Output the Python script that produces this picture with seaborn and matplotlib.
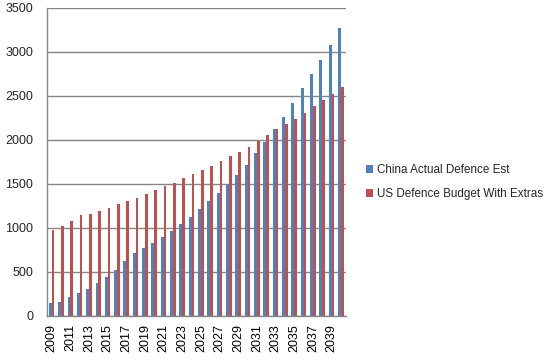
import matplotlib
matplotlib.use("Agg")
import matplotlib.pyplot as plt
import seaborn as sns
import pandas as pd
import numpy as np

# values
years = list(range(2009, 2041))
china = [143, 155, 211, 256, 302, 369, 437, 516, 618, 709,
         765, 822, 890, 958, 1037, 1127, 1218, 1308, 1399, 1500,
         1602, 1715, 1845, 1970, 2116, 2260, 2420, 2590, 2750, 2910,
         3081, 3270]
us = [969, 1014, 1071, 1142, 1161, 1195, 1229, 1274, 1308, 1342,
      1387, 1433, 1478, 1512, 1568, 1614, 1659, 1704, 1761, 1817,
      1862, 1919, 1985, 2050, 2116, 2180, 2237, 2305, 2385, 2454,
      2522, 2600]
series_names = ["China Actual Defence Est", "US Defence Budget With Extras"]
colors = ["#4F81BD", "#C0504D"]

df = pd.DataFrame({
    "year": [str(y) for y in years] * 2,
    "value": china + us,
    "series": [series_names[0]] * len(years) + [series_names[1]] * len(years),
})

sns.set_theme(style="white")
plt.rcParams['font.family'] = ['Liberation Sans', 'DejaVu Sans']

fig = plt.figure(figsize=(5.48, 3.64), dpi=100)
ax = fig.add_axes([47 / 548, 1 - 315.7 / 364, (345.5 - 47) / 548, (315.7 - 7.7) / 364])

sns.barplot(data=df, x="year", y="value", hue="series", palette=colors,
            width=0.6, saturation=1, linewidth=0, ax=ax)

grey = "#868686"
ax.set_ylim(0, 3500)
ax.set_yticks(range(0, 3501, 500))
ax.set_xlim(-0.5, len(years) - 0.5)
ax.yaxis.grid(True, color=grey, lw=1)
ax.set_axisbelow(True)

ax.set_xticks(range(0, len(years), 2))
ax.set_xticklabels([str(y) for y in years[::2]], rotation=90)
ax.set_xticks(np.arange(-0.5, len(years), 1), minor=True)
ax.tick_params(axis="x", which="major", length=0, pad=6, labelsize=9, colors="black")
ax.tick_params(axis="x", which="minor", length=4, width=1, color=grey, direction="out")
ax.tick_params(axis="y", length=4, width=1, color=grey, direction="out", pad=6, labelsize=9)
ax.set_xlabel("")
ax.set_ylabel("")

for s in ["top", "right"]:
    ax.spines[s].set_visible(False)
for s in ["left", "bottom"]:
    ax.spines[s].set_color(grey)
    ax.spines[s].set_linewidth(1)

handles, labels = ax.get_legend_handles_labels()
ax.legend(handles, labels, loc="center left", bbox_to_anchor=(362 / 548, 1 - 182 / 364),
          bbox_transform=fig.transFigure, frameon=False, fontsize=8.4,
          handlelength=0.65, handleheight=0.65, handletextpad=0.35, labelspacing=1.05,
          borderaxespad=0, borderpad=0.3)

fig.savefig("out.png", dpi=100)
